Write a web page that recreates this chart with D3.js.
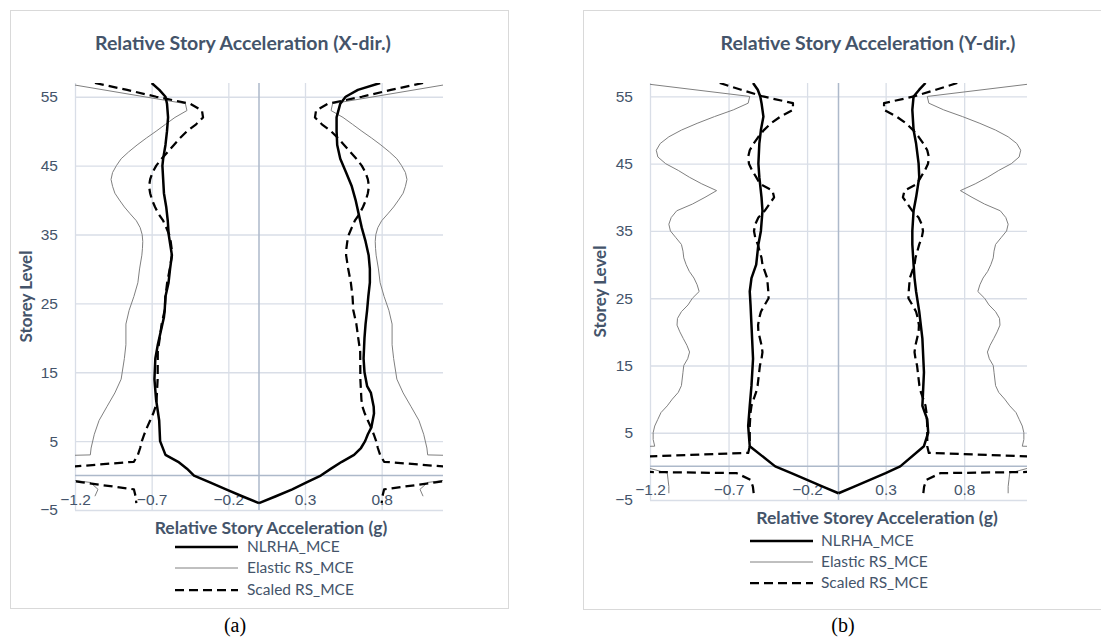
<!DOCTYPE html>
<html>
<head>
<meta charset="utf-8">
<script src="https://cdnjs.cloudflare.com/ajax/libs/d3/7.8.5/d3.min.js"></script>
<style>
  body { margin: 0; background: #fff; }
  svg { display: block; font-family: Lato, "Open Sans", sans-serif; }
</style>
</head>
<body>
<div id="chart"></div>
<script>
// axis ticks
var yTicks = [-5, 5, 15, 25, 35, 45, 55];
var xTicks = [-1.2, -0.7, -0.2, 0.3, 0.8];
var seriesNames = ["NLRHA_MCE", "Elastic RS_MCE", "Scaled RS_MCE"];

// [storey level, acceleration (g)]
// (a) X-direction
var nlrhaXNeg = [[57,-0.70],[56,-0.65],[55,-0.61],[54,-0.60],[52,-0.593],[50,-0.60],[48,-0.61],[46,-0.625],[45,-0.63],
  [43,-0.625],[41,-0.62],[39,-0.605],[37,-0.595],[35,-0.589],[33,-0.575],[32,-0.568],[30,-0.58],[28,-0.59],[26,-0.61],
  [24,-0.615],[23,-0.62],[21,-0.64],[19,-0.66],[17,-0.676],[14,-0.682],[11,-0.671],[8,-0.651],[5,-0.645],[3,-0.61],
  [2,-0.527],[1,-0.47],[0,-0.424],[-1,-0.32],[-2,-0.215],[-3,-0.11],[-4,0]];
var nlrhaXPos = [[57,0.79],[56,0.645],[55,0.565],[54,0.53],[52,0.506],[50,0.506],[48,0.51],[46,0.53],[44,0.568],
  [42,0.605],[40,0.63],[38,0.65],[36,0.67],[34,0.695],[32,0.715],[30,0.723],[28,0.723],[26,0.713],[24,0.705],
  [22,0.695],[20,0.688],[17,0.682],[15,0.688],[13,0.705],[12,0.73],[10,0.748],[9,0.75],[7,0.733],[6,0.71],[5,0.692],
  [4,0.665],[3,0.62],[2,0.54],[1,0.47],[0,0.403],[-1,0.31],[-2,0.217],[-3,0.11],[-4,0]];
// response spectrum envelopes (plotted as +/-)
var elasticX = [[57,1.28],[54,0.48],[53,0.47],[52,0.548],[51,0.61],[50,0.671],[49,0.735],[48,0.795],[47,0.85],
  [46,0.899],[45,0.93],[44,0.955],[43,0.965],[42,0.955],[41,0.94],[40,0.91],[39,0.878],[38,0.84],[37,0.80],[36,0.775],
  [35,0.762],[34,0.758],[33,0.76],[32,0.764],[30,0.779],[28,0.79],[26,0.816],[24,0.847],[22,0.868],[19,0.868],
  [17,0.878],[14,0.899],[12,0.94],[10,0.992],[8,1.043],[6,1.074],[4,1.095],[3,1.10],[2,3.0],[1,2.5],[0,1.45],
  [-1,1.1],[-2,1.05],[-3,1.07]];
var scaledX = [[57,1.07],[56,0.86],[55,0.67],[54,0.45],[53,0.372],[52,0.365],[51,0.41],[50,0.47],[49,0.515],
  [48,0.555],[47,0.595],[46,0.635],[45,0.67],[44,0.695],[43,0.71],[42,0.717],[41,0.71],[40,0.697],[39,0.678],
  [38,0.655],[37,0.625],[36,0.605],[35,0.586],[34,0.576],[33,0.57],[32,0.568],[31,0.575],[30,0.582],[28,0.599],
  [26,0.61],[24,0.615],[22,0.635],[20,0.647],[18,0.66],[14,0.661],[11,0.668],[10,0.675],[9,0.69],[8,0.71],[7,0.73],
  [6,0.748],[5,0.764],[4,0.775],[3,0.79],[2,0.816],[1,1.39],[0,1.44],[-1,1.15],[-2,0.816],[-3,0.805],[-4,0.80]];

// (b) Y-direction
var nlrhaYNeg = [[57,-0.544],[56,-0.514],[55,-0.498],[54,-0.49],[52,-0.478],[50,-0.494],[48,-0.504],[45,-0.51],
  [43,-0.504],[40,-0.49],[38,-0.484],[35,-0.494],[33,-0.51],[30,-0.524],[28,-0.554],[26,-0.565],[24,-0.56],
  [21,-0.554],[16,-0.544],[12,-0.554],[9,-0.565],[6,-0.575],[3,-0.565],[0,-0.403],[-1,-0.3],[-2,-0.2],[-3,-0.1],[-4,0]];
var nlrhaYPos = [[57,0.554],[56,0.514],[55,0.478],[53,0.47],[50,0.478],[48,0.494],[45,0.51],[43,0.514],[40,0.494],
  [38,0.478],[35,0.47],[33,0.47],[30,0.478],[28,0.484],[26,0.494],[23,0.514],[19,0.534],[14,0.544],[9,0.534],
  [7,0.565],[5,0.571],[3,0.544],[0,0.393],[-1,0.3],[-2,0.2],[-3,0.1],[-4,0]];
var elasticY = [[57,1.27],[55,0.565],[54,0.575],[53,0.67],[52,0.79],[51,0.9],[50,1.0],[49,1.08],[48,1.135],[47,1.16],
  [46,1.15],[45,1.10],[44,1.02],[43,0.95],[42,0.87],[41,0.776],[40,0.85],[39,0.93],[38,1.03],[37,1.065],[36,1.08],
  [35,1.07],[34,1.035],[33,1.0],[32,0.99],[31,0.985],[30,0.97],[29,0.95],[28,0.92],[27,0.9],[26,0.887],[25,0.93],
  [24,0.958],[23,1.0],[22,1.025],[21,1.028],[20,1.01],[19,0.988],[18,0.965],[17,0.948],[16,0.96],[15,0.985],
  [14,0.99],[12,1.0],[11,1.02],[10,1.058],[9,1.09],[8,1.13],[7,1.15],[6,1.17],[5,1.18],[4,1.18],[3,1.17],[2,3.0],
  [1,3.0],[0,1.25],[-1,1.09],[-2,1.085],[-3,1.08],[-4,1.08]];
var scaledY = [[57,0.756],[56,0.62],[55,0.48],[54,0.29],[53,0.29],[52,0.37],[51,0.43],[50,0.475],[49,0.51],[48,0.54],
  [47,0.565],[46,0.575],[45,0.57],[44,0.55],[43,0.524],[42,0.5],[41,0.42],[40,0.41],[39,0.44],[38,0.47],[37,0.51],
  [36,0.53],[35,0.538],[34,0.53],[33,0.514],[31,0.49],[30,0.484],[28,0.454],[26,0.447],[25,0.445],[24,0.47],
  [23,0.494],[22,0.505],[21,0.512],[20,0.51],[19,0.5],[18,0.49],[17,0.484],[16,0.49],[15,0.5],[14,0.505],[12,0.515],
  [11,0.525],[10,0.54],[9,0.554],[8,0.56],[6,0.565],[3,0.565],[2,0.575],[1,1.8],[0,4.0],[-1,0.65],[-2,0.56],
  [-3,0.545],[-4,0.54]];

var textColor = "#44546a";
var styles = [
  { stroke: "#000", width: 2.5, dash: null },
  { stroke: "#808080", width: 1, dash: null },
  { stroke: "#000", width: 2.25, dash: "9,5" }
];

var svg = d3.select("#chart").append("svg")
  .attr("width", 1101)
  .attr("height", 638);

function mirror(data) {
  return data.map(d => [d[0], -d[1]]);
}

function drawPanel(p, id) {
  svg.append("rect")
    .attr("x", p.box[0] + 0.5).attr("y", p.box[1] + 0.5)
    .attr("width", p.box[2]).attr("height", p.box[3])
    .attr("fill", "none").attr("stroke", "#d9d9d9");

  var w = p.plot.right - p.plot.left;
  var h = p.plot.bottom - p.plot.top;
  var x = d3.scaleLinear().domain([-1.2, 1.2]).range([p.plot.left, p.plot.right]);
  var y = d3.scaleLinear().domain([-5, 57]).range([p.plot.bottom, p.plot.top]);

  // title
  svg.append("text")
    .attr("x", p.titleX).attr("y", p.titleY).attr("dy", "0.35em")
    .attr("text-anchor", "middle")
    .attr("font-size", 19.5).attr("font-weight", "bold")
    .attr("fill", textColor)
    .text(p.title);

  // horizontal gridlines + y labels
  var yAxis = svg.append("g")
    .attr("transform", "translate(" + p.plot.left + ",0)")
    .call(d3.axisLeft(y).tickValues(yTicks).tickSize(-w).tickPadding(17));
  yAxis.select(".domain").remove();
  yAxis.selectAll("line").attr("stroke", "#d9dee7").attr("stroke-width", 1.3);
  yAxis.selectAll("text").attr("font-size", 15.5).attr("fill", textColor).attr("font-family", null);

  // vertical gridlines + x labels
  var xAxis = svg.append("g")
    .attr("transform", "translate(0," + p.plot.bottom + ")")
    .call(d3.axisBottom(x).tickValues(xTicks).tickSize(-h).tickFormat(d3.format(".1f")));
  xAxis.select(".domain").remove();
  xAxis.selectAll("line").attr("stroke", "#d9dee7").attr("stroke-width", 1.3);
  xAxis.selectAll("text")
    .attr("y", -10).attr("dy", "0.35em")
    .attr("font-size", 15.5).attr("fill", textColor).attr("font-family", null);

  // axis lines through zero
  svg.append("line")
    .attr("x1", p.plot.left).attr("x2", p.plot.right)
    .attr("y1", y(0)).attr("y2", y(0))
    .attr("stroke", "#adb9ca").attr("stroke-width", 1.5);
  svg.append("line")
    .attr("x1", x(0)).attr("x2", x(0))
    .attr("y1", p.plot.top).attr("y2", p.plot.bottom)
    .attr("stroke", "#adb9ca").attr("stroke-width", 1.5);

  // axis titles
  svg.append("text")
    .attr("transform", "translate(" + p.yTitleX + "," + (p.plot.top + h / 2) + ") rotate(-90)")
    .attr("dy", "0.35em")
    .attr("text-anchor", "middle")
    .attr("font-size", 17).attr("font-weight", "bold")
    .attr("fill", textColor)
    .text("Storey Level");
  svg.append("text")
    .attr("x", p.xTitleX).attr("y", p.xTitleY).attr("dy", "0.35em")
    .attr("text-anchor", "middle")
    .attr("font-size", 17.5).attr("font-weight", "bold")
    .attr("fill", textColor)
    .text(p.xTitle);

  // series
  svg.append("clipPath").attr("id", "clip" + id)
    .append("rect")
    .attr("x", p.plot.left).attr("y", p.plot.top)
    .attr("width", w).attr("height", h);

  var line = d3.line()
    .x(d => x(d[1]))
    .y(d => y(d[0]));

  var lines = [
    { data: p.elastic, s: 1 },
    { data: mirror(p.elastic), s: 1 },
    { data: p.scaled, s: 2 },
    { data: mirror(p.scaled), s: 2 },
    { data: p.nlrhaNeg, s: 0 },
    { data: p.nlrhaPos, s: 0 }
  ];
  svg.append("g").attr("clip-path", "url(#clip" + id + ")")
    .selectAll("path").data(lines).enter().append("path")
    .attr("d", d => line(d.data))
    .attr("fill", "none")
    .attr("stroke", d => styles[d.s].stroke)
    .attr("stroke-width", d => styles[d.s].width)
    .attr("stroke-dasharray", d => styles[d.s].dash)
    .attr("stroke-linejoin", "round");

  // legend
  var leg = svg.selectAll(".leg" + id).data(seriesNames).enter().append("g")
    .attr("transform", (d, i) => "translate(" + p.legendX + "," + p.legendY[i] + ")");
  leg.append("line")
    .attr("x1", 0).attr("x2", 63)
    .attr("stroke", (d, i) => styles[i].stroke)
    .attr("stroke-width", (d, i) => styles[i].width)
    .attr("stroke-dasharray", (d, i) => styles[i].dash);
  leg.append("text")
    .attr("x", p.legendTextX - p.legendX).attr("dy", "0.35em")
    .attr("font-size", 15.5).attr("fill", textColor)
    .text(d => d);

  // caption
  svg.append("text")
    .attr("x", p.captionX).attr("y", p.captionY).attr("dy", "0.35em")
    .attr("text-anchor", "middle")
    .attr("font-family", "'Liberation Serif', 'Times New Roman', serif")
    .attr("font-size", 20).attr("fill", "#000")
    .text(p.caption);
}

drawPanel({
  box: [10, 10, 498, 598],
  plot: { left: 75, right: 443, top: 83, bottom: 510 },
  title: "Relative Story Acceleration (X-dir.)", titleX: 243, titleY: 43,
  yTitleX: 26,
  xTitle: "Relative Story Acceleration (g)", xTitleX: 271, xTitleY: 528,
  legendX: 175, legendTextX: 247, legendY: [547, 568, 590],
  caption: "(a)", captionX: 235, captionY: 625,
  nlrhaNeg: nlrhaXNeg, nlrhaPos: nlrhaXPos, elastic: elasticX, scaled: scaledX
}, "a");

// right-hand frame runs past the page edge
drawPanel({
  box: [583, 10, 530, 599],
  plot: { left: 650, right: 1027, top: 83, bottom: 500 },
  title: "Relative Story Acceleration (Y-dir.)", titleX: 868, titleY: 43,
  yTitleX: 600,
  xTitle: "Relative Storey Acceleration (g)", xTitleX: 877, xTitleY: 518,
  legendX: 750, legendTextX: 821, legendY: [541, 562, 583],
  caption: "(b)", captionX: 843, captionY: 625,
  nlrhaNeg: nlrhaYNeg, nlrhaPos: nlrhaYPos, elastic: elasticY, scaled: scaledY
}, "b");
</script>
</body>
</html>
